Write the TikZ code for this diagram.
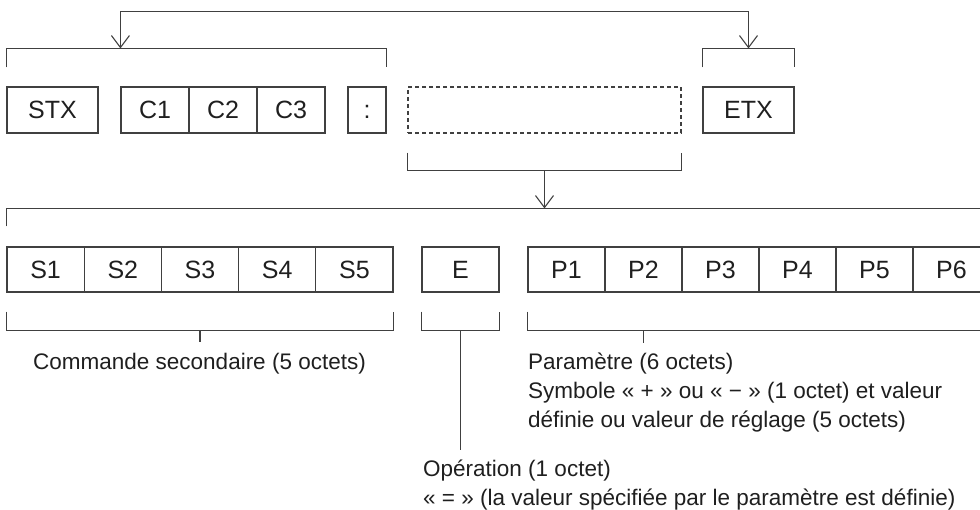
\documentclass[tikz,border=0pt]{standalone}
\usepackage{fontspec}
\setmainfont{Liberation Sans}
\usetikzlibrary{arrows.meta}

\begin{document}
\begin{tikzpicture}[
    x=1pt, y=-1pt,
    >={Straight Barb[length=12pt, width=18pt]},
    cell/.style={draw=black!75, line width=1.1pt, inner sep=0pt, minimum height=45pt, text height=18pt, text depth=0pt, font=\fontsize{25}{30}\selectfont, text=black!88},
    lbl/.style={anchor=base west, inner sep=0pt, align=left, font=\fontsize{22.5}{28.7}\selectfont, text=black!88},
    brk/.style={draw=black!75, line width=1.1pt},
    arr/.style={brk, <->},
]
\useasboundingbox (0,0) rectangle (980,510);
\clip (0,0) rectangle (980,510);
% Frame (top row)
\node[cell, minimum width=91pt, minimum height=46pt] (stx) at (52.5, 110) {STX};
\node[cell, minimum width=68pt, minimum height=46pt] (c1) at (155, 110) {C1};
\node[cell, minimum width=68pt, minimum height=46pt] (c2) at (223, 110) {C2};
\node[cell, minimum width=68pt, minimum height=46pt] (c3) at (291, 110) {C3};
\node[cell, minimum width=38pt, minimum height=46pt] (colon) at (367, 110) {:};
\node[cell, dash pattern=on 4pt off 3pt, minimum width=273pt, minimum height=46pt] (data) at (544.5, 110) {};
\node[cell, minimum width=91pt, minimum height=46pt] (etx) at (748.5, 110) {ETX};
% Data field (bottom row)
\node[cell, minimum width=77.2pt] (s1) at (45.6, 269.5) {S1};
\node[cell, minimum width=77.2pt] (s2) at (122.8, 269.5) {S2};
\node[cell, minimum width=77.2pt] (s3) at (200, 269.5) {S3};
\node[cell, minimum width=77.2pt] (s4) at (277.2, 269.5) {S4};
\node[cell, minimum width=77.2pt] (s5) at (354.4, 269.5) {S5};
\node[cell, minimum width=77pt] (e) at (460.5, 269.5) {E};
\node[cell, minimum width=77pt] (p1) at (566.5, 269.5) {P1};
\node[cell, minimum width=77pt] (p2) at (643.5, 269.5) {P2};
\node[cell, minimum width=77pt] (p3) at (720.5, 269.5) {P3};
\node[cell, minimum width=77pt] (p4) at (797.5, 269.5) {P4};
\node[cell, minimum width=77pt] (p5) at (874.5, 269.5) {P5};
\node[cell, minimum width=77pt] (p6) at (951.5, 269.5) {P6};
% Labels (base = last line)
\node[lbl] (cmd) at (33, 370) {Commande secondaire (5 octets)};
\node[lbl] (par) at (528, 427.4) {Paramètre (6 octets)\\Symbole « + » ou « − » (1 octet) et valeur\\définie ou valeur de réglage (5 octets)};
\node[lbl] (opn) at (423, 505.5) {Opération (1 octet)\\« = » (la valeur spécifiée par le paramètre est définie)};
% Brackets over the frame
\draw[brk] ([yshift=19pt]stx.north west) |- ([yshift=38pt]colon.north east) -- ([yshift=19pt]colon.north east);
\draw[brk] ([yshift=19pt]etx.north west) |- ([yshift=38pt]etx.north east) -- ([yshift=19pt]etx.north east);
\draw[brk] ([yshift=-19pt]data.south west) |- ([yshift=-37pt]data.south east) -- ([yshift=-19pt]data.south east);
\draw[brk] ([yshift=20pt]s1.north west) |- ([yshift=38pt]p6.north east) -- ([yshift=20pt]p6.north east);
% Brackets under the data field
\draw[brk] ([yshift=-19pt]s1.south west) |- ([yshift=-38pt]s5.south east) -- ([yshift=-19pt]s5.south east);
\draw[brk] ([yshift=-19pt]e.south west) |- ([yshift=-38pt]e.south east) -- ([yshift=-19pt]e.south east);
\draw[brk] ([yshift=-19pt]p1.south west) |- ([yshift=-38pt]p6.south east) -- ([yshift=-19pt]p6.south east);
\draw[brk] ([yshift=-38pt]s3.south) -- ++(0,11);
\draw[brk] ([yshift=-38pt]p2.south) -- ++(0,12);
% Arrows
\coordinate (hdrL) at ([yshift=38pt]c1.north west);
\coordinate (hdrR) at ([yshift=38pt]etx.north);
\coordinate (datB) at ([yshift=-37pt]data.south);
\coordinate (body) at ([yshift=38pt]s1.north west);
\coordinate (opntop) at ([yshift=10pt]opn.north);
\draw[arr] (hdrL) -- ++(0,-37) -| (hdrR);
\draw[arr, <-] (datB |- body) -- (datB);
\draw[brk] ([yshift=-38pt]e.south) -- (opntop -| e.south);
\end{tikzpicture}
\end{document}
